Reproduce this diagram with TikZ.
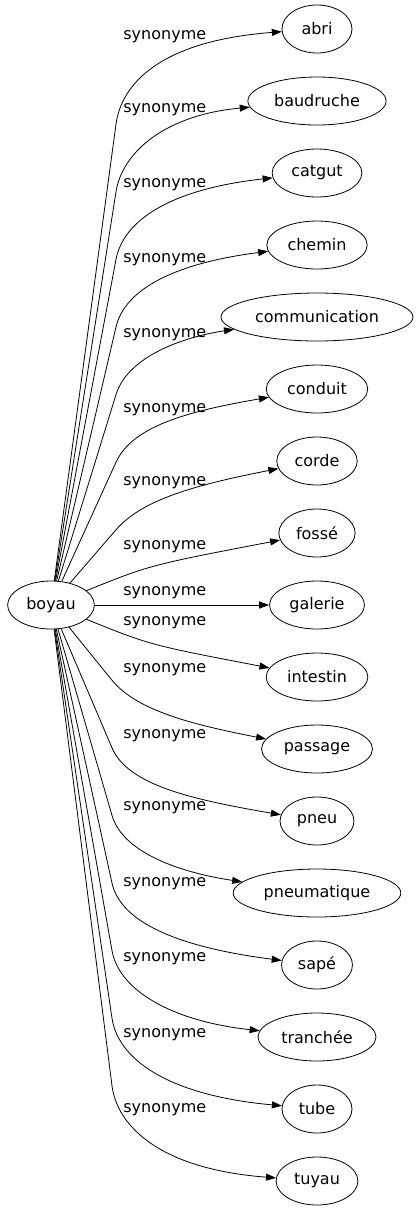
\documentclass[tikz,border=0pt]{standalone}
\usepackage{fontspec}
\setmainfont{DejaVu Sans}
\usetikzlibrary{shapes.geometric, calc, arrows.meta}
\tikzset{>={Triangle[length=10pt, width=7pt]}}

\begin{document}
\begin{tikzpicture}[x=1pt, y=-1pt, line width=0.8pt,
  every node/.style={font=\fontsize{16}{19}\selectfont},
  word/.style={draw, ellipse, minimum width=70pt, minimum height=48pt, inner xsep=6pt, inner ysep=2pt},
  rel/.style={anchor=west, inner sep=0pt},
  link/.style={->}]

\useasboundingbox (0,0) rectangle (417,1211);

% --- Source word ---
\node[word] (boyau) at (51,605) {boyau};

% --- Synonyms, their labels and links ---
\foreach \nm/\txt/\ly [count=\i from 0] in {abri/abri/37, baudruche/baudruche/110,
    catgut/catgut/185, chemin/chemin/260, communication/communication/335,
    conduit/conduit/410, corde/corde/483, fosse/fossé/547, galerie/galerie/593,
    intestin/intestin/623, passage/passage/670, pneu/pneu/736,
    pneumatique/pneumatique/808, sape/sapé/884, tranchee/tranchée/959,
    tube/tube/1035, tuyau/tuyau/1110} {
  \pgfmathsetmacro\ty{29+72*\i}
  \pgfmathtruncatemacro\d{abs(8-\i)}
  \pgfmathsetmacro\s{ifthenelse(\i<8,1,-1)}
  \node[word] (\nm) at (317,\ty) {\txt};
  \node[rel] (l\nm) at (123,\ly) {synonyme};
  \ifcase\d
    \draw[link] (boyau) -- (\nm);
  \or
    \draw[link] (boyau) .. controls (150,\ty+32*\s) .. (\nm);
  \else
    \pgfmathsetmacro\ky{\ty+\s*(60+4.4*\d)}
    \pgfmathsetmacro\kx{ifthenelse(\i<8,116,112)}
    \pgfmathsetmacro\cx{207-6*\d}
    \pgfmathsetmacro\cy{\ty+\s*(28-2*\d)}
    \coordinate (k\nm) at (\kx,\ky);
    \draw[link] (boyau) -- (k\nm)
      .. controls ($(k\nm)!-40pt!(boyau.center)$) and (\cx,\cy) .. (\nm);
  \fi
}

\end{tikzpicture}
\end{document}
